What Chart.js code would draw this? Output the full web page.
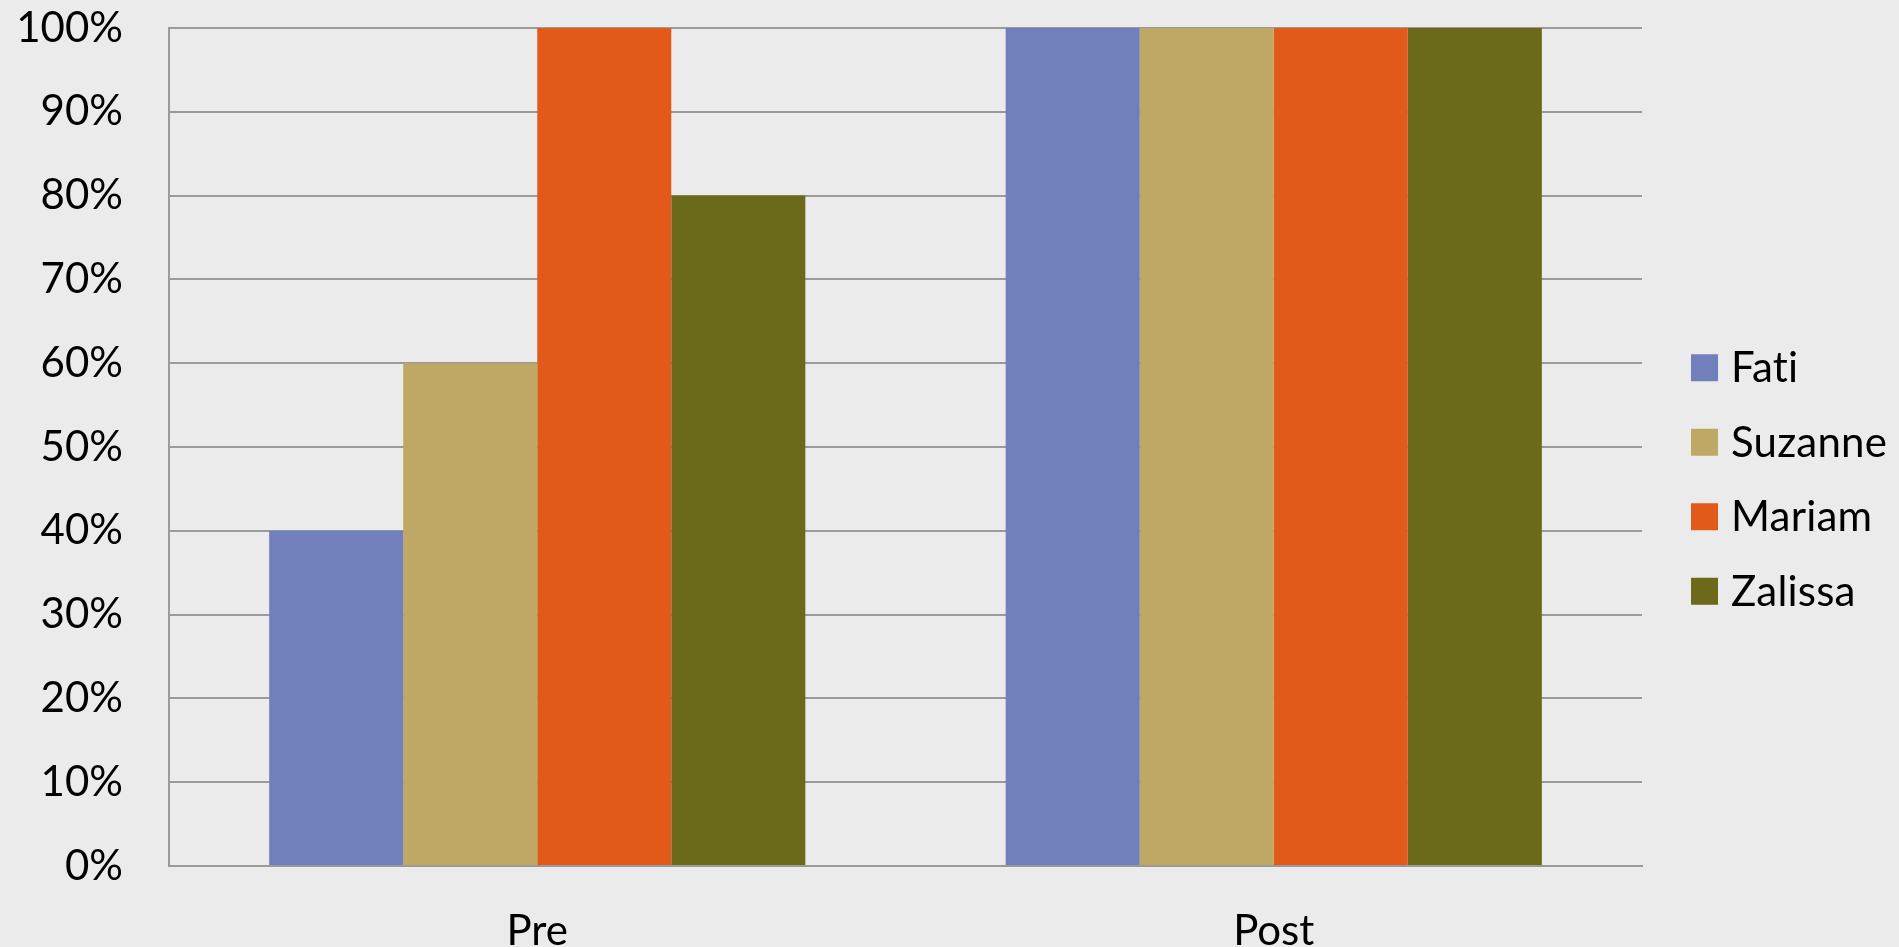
<!DOCTYPE html>
<html>
<head>
<meta charset="utf-8">
<script src="https://cdn.jsdelivr.net/npm/chart.js@4/dist/chart.umd.min.js"></script>
<style>
    html, body { margin: 0; padding: 0; background: #ebebeb; }
    canvas { display: block; }
</style>
</head>
<body>
<canvas id="grafico" width="1899" height="947"></canvas>
<script>
(() => {
    // datos
    const categorias = ['Pre', 'Post'];
    const nombres = ['Fati', 'Suzanne', 'Mariam', 'Zalissa'];
    const fati = [40, 100];
    const suzanne = [60, 100];
    const mariam = [100, 100];
    const zalissa = [80, 100];
    const colores = ['#7180bb', '#bfa865', '#e15a19', '#6b6a1a'];

    const fuente = "Lato, 'Open Sans', sans-serif";

    // leyenda a la derecha, dibujada a mano
    const leyendaLateral = {
        id: 'leyendaLateral',
        afterDraw(chart) {
            const ctx = chart.ctx;
            const area = chart.chartArea;
            const sets = chart.data.datasets;
            const alto = 74.5;
            const caja = 27;
            const x = area.right + 49;
            const y0 = 479.5 - (sets.length - 1) * alto / 2;
            ctx.save();
            ctx.font = '42px ' + fuente;
            ctx.letterSpacing = '0.2px'; // evita la ligadura "ti"
            ctx.textBaseline = 'middle';
            ctx.textAlign = 'left';
            sets.forEach((ds, i) => {
                const y = y0 + i * alto;
                ctx.fillStyle = ds.backgroundColor;
                ctx.fillRect(x, y - caja / 2, caja, caja);
                ctx.fillStyle = '#000';
                ctx.fillText(ds.label, x + caja + 13, y + 1);
            });
            ctx.restore();
        }
    };

    const series = [fati, suzanne, mariam, zalissa];

    new Chart(document.getElementById('grafico').getContext('2d'), {
        type: 'bar',
        data: {
            labels: categorias,
            datasets: series.map((d, i) => ({
                label: nombres[i],
                data: d,
                backgroundColor: colores[i],
                borderWidth: 0,
                categoryPercentage: 0.728,
                barPercentage: 1
            }))
        },
        options: {
            responsive: false,
            animation: false,
            layout: { padding: { top: 28, right: 257, left: 0, bottom: 0 } },
            plugins: {
                legend: { display: false },
                tooltip: { enabled: false }
            },
            scales: {
                x: {
                    grid: { display: false },
                    border: { display: true, color: '#9a9a9a', width: 2 },
                    ticks: {
                        color: '#000',
                        font: { family: fuente, size: 42 },
                        padding: 32
                    },
                    afterFit: s => {
                        s.height = 81;
                        s.paddingLeft = 0;
                        s.paddingRight = 0;
                    }
                },
                y: {
                    min: 0,
                    max: 100,
                    grid: { color: '#9a9a9a', lineWidth: 2, drawTicks: false },
                    border: { display: true, color: '#9a9a9a', width: 2 },
                    ticks: {
                        stepSize: 10,
                        color: '#000',
                        font: { family: fuente, size: 42 },
                        padding: 46,
                        callback: v => v + '%'
                    },
                    afterFit: s => {
                        s.width = 169;
                        s.paddingTop = 0;
                        s.paddingBottom = 0;
                    }
                }
            }
        },
        plugins: [leyendaLateral]
    });
})();
</script>
</body>
</html>
